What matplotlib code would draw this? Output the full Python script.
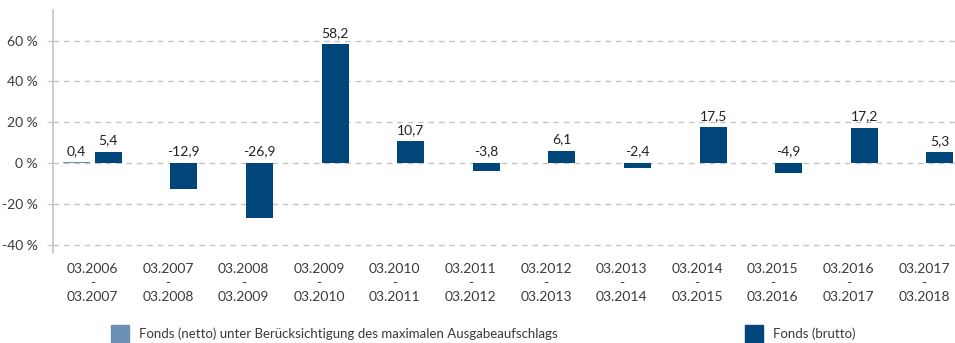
import numpy as np
import matplotlib.pyplot as plt
from matplotlib.patches import Patch

plt.rcParams['font.family'] = ['Lato', 'DejaVu Sans']
plt.rcParams['font.size'] = 10

perioden = ["03.2006\n-\n03.2007", "03.2007\n-\n03.2008", "03.2008\n-\n03.2009",
            "03.2009\n-\n03.2010", "03.2010\n-\n03.2011", "03.2011\n-\n03.2012",
            "03.2012\n-\n03.2013", "03.2013\n-\n03.2014", "03.2014\n-\n03.2015",
            "03.2015\n-\n03.2016", "03.2016\n-\n03.2017", "03.2017\n-\n03.2018"]
netto = [0.4, None, None, None, None, None, None, None, None, None, None, None]
brutto = [5.4, -12.9, -26.9, 58.2, 10.7, -3.8, 6.1, -2.4, 17.5, -4.9, 17.2, 5.3]
yticks = [-40, -20, 0, 20, 40, 60]

c_netto = "#6b8fb5"
c_brutto = "#00467a"
c_text = "#3a3a3a"
c_grid = "#c4c4c4"

fig = plt.figure(figsize=(9.55, 3.43), dpi=100)
ax = fig.add_axes([53 / 955, 90 / 343, 902 / 955, 243 / 343])

x = np.arange(len(perioden))
w = 0.357
off = 0.21

net_x = [xi - off for xi, v in zip(x, netto) if v is not None]
net_v = [v for v in netto if v is not None]
ax.bar(net_x, net_v, width=w, color=c_netto, zorder=3)
ax.bar(x + off, brutto, width=w, color=c_brutto, zorder=3)

def label(xp, v):
    ax.annotate(f"{v:.1f}".replace(".", ","), (xp, max(v, 0)),
                xytext=(0, 4), textcoords="offset points",
                ha="center", va="bottom", color="#222222")

for xp, v in zip(net_x, net_v):
    label(xp, v)
for xp, v in zip(x + off, brutto):
    label(xp, v)

ax.set_xlim(-0.52, 11.41)
ax.set_ylim(-44, 75)
ax.set_yticks(yticks)
ax.set_yticklabels([f"{t} %" for t in yticks], color=c_text)
ax.set_xticks(x)
ax.set_xticklabels(perioden, color=c_text, linespacing=1.2)

ax.grid(axis="y", color=c_grid, linestyle=(0, (4, 3.5)), linewidth=1, zorder=0)
ax.tick_params(axis="y", length=4, color=c_grid, pad=7)
ax.tick_params(axis="x", length=0, pad=7)

for s in ["top", "right", "bottom"]:
    ax.spines[s].set_visible(False)
ax.spines["left"].set_color(c_grid)
ax.spines["left"].set_linewidth(1.2)

leg_kw = dict(loc="center left", frameon=False, fontsize=9.5,
              handlelength=1.4, handleheight=1.7, handletextpad=0.75,
              labelcolor=c_text, borderpad=0)
fig.legend(handles=[Patch(color=c_netto)],
           labels=["Fonds (netto) unter Berücksichtigung des maximalen Ausgabeaufschlags"],
           bbox_to_anchor=(104 / 955, 9 / 343), **leg_kw)
fig.legend(handles=[Patch(color=c_brutto)], labels=["Fonds (brutto)"],
           bbox_to_anchor=(738 / 955, 9 / 343), **leg_kw)

fig.savefig("out.png", dpi=100)
